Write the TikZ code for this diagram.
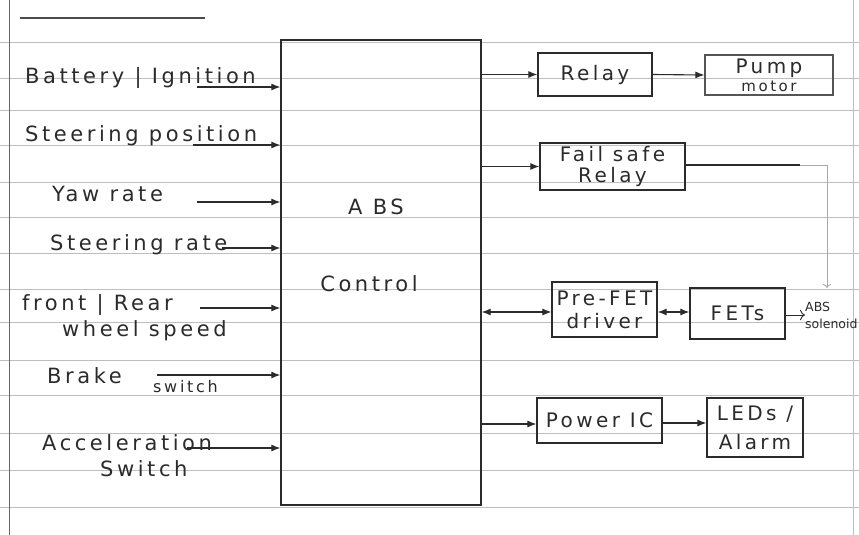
\documentclass[tikz,border=0pt]{standalone}
\usepackage{fontspec}
\setmainfont{DejaVu Sans}[LetterSpace=17]
\newfontfamily\plainfont{DejaVu Sans}
\usetikzlibrary{arrows.meta}
\definecolor{ink}{HTML}{2B2B2B}
\definecolor{rulec}{HTML}{BEBEBE}
\definecolor{faint}{HTML}{A8A8A8}
\begin{document}
\begin{tikzpicture}[x=1pt,y=-1pt,
  hand/.style={inner sep=0pt, anchor=base west, text=ink, font=\fontsize{21}{23}\selectfont},
  handc/.style={inner sep=0pt, text=ink, font=\fontsize{21}{23}\selectfont},
  smalltxt/.style={font=\fontsize{16}{18}\selectfont},
  blk/.style={draw=ink, line width=1.2pt, inner sep=0pt, align=center, text=ink,
              font=\fontsize{20}{23}\selectfont},
  wire/.style={draw=ink, line width=1.1pt},
  tip/.style={-{Latex[length=9pt,width=7pt]}},
  dtip/.style={{Latex[length=9pt,width=7pt]}-{Latex[length=9pt,width=7pt]}},
  ruled/.style={draw=rulec, line width=0.8pt}]
\useasboundingbox (0,0) rectangle (859,535);
\fill[white] (0,0) rectangle (859,535);
% ruled notebook paper
\foreach \yy in {42,78,110,145,182,217,253,289,322,360,395,433,470,507}
  \draw[ruled] (0,\yy) -- (859,\yy);
\draw[draw=gray!80!black, line width=0.9pt] (9,0) -- (9,535);
\draw[draw=rulec, line width=0.8pt] (853,0) -- (853,535);
\draw[draw=gray!60!black, line width=2.6pt] (20,18) -- (205,18);

% ABS control block
\node[blk, line width=1.3pt, minimum width=200pt, minimum height=465pt] (abs) at (381,272.5) {};
\node[handc] (abst) at (376,207) {A BS};
\node[handc] (absc) at (369,284) {Control};

% input labels
\node[hand] (t1) at (25,84) {Battery | Ignition};
\node[hand] (t2) at (25,141) {Steering position};
\node[hand] (t3) at (52,201) {Yaw rate};
\node[hand] (t4) at (50,250) {Steering rate};
\node[hand] (t5a) at (22,310) {front | Rear};
\node[hand] (t5b) at (62,336) {wheel speed};
\node[hand] (t6a) at (47,383) {Brake};
\node[hand,smalltxt] (t6b) at (153,392) {switch};
\node[hand] (t7a) at (42,450) {Acceleration};
\node[hand] (t7b) at (100,476) {Switch};

% input connectors
\coordinate (i1) at (197,87);
\coordinate (i2) at (193,145);
\coordinate (i3) at (197,202);
\coordinate (i4) at (222,248);
\coordinate (i5) at (200,308);
\coordinate (i6) at (157,375);
\coordinate (i7) at (187,448);
\foreach \c in {i1,i2,i3,i4,i5,i6,i7}
  \draw[wire,tip] (\c) -- (\c -| abs.west);

% output blocks
\node[blk, minimum width=114pt, minimum height=43pt] (relay) at (595,74.5) {Relay};
\node[blk, draw=ink!80, minimum width=128pt, minimum height=40pt] (pump) at (769,75)
  {Pump\\[-5pt]{\fontsize{15}{17}\selectfont motor}};
\node[blk, minimum width=145pt, minimum height=47pt] (fs) at (612.5,166.5) {Fail safe\\[-2pt]Relay};
\node[blk, minimum width=105pt, minimum height=55pt] (pre) at (604.5,309.5) {Pre-FET\\driver};
\node[blk, minimum width=95pt, minimum height=51pt] (fets) at (737.5,313.5) {FETs};
\node[blk, minimum width=125pt, minimum height=45pt] (pwr) at (599.5,420.5) {Power IC};
\node[blk, minimum width=96pt, minimum height=59pt] (led) at (755,427.5) {LEDs /\\[6pt]Alarm};
\node[inner sep=0pt, anchor=west, align=left, text=ink, font=\plainfont\fontsize{12.5}{17}\selectfont] (sol)
  at (805,315) {ABS\\solenoid};

% output connectors
\draw[wire,tip] (abs.east |- relay.west) -- (relay.west);
\draw[wire,tip] (relay.east) -- (pump.west);
\draw[wire,tip] (abs.east |- fs.west) -- (fs.west);
\coordinate (fsend) at (800,165);
\coordinate (fscorner) at (827,165);
\coordinate (fsdown) at (827,288);
\draw[wire] (fs.east |- fsend) -- (fsend);
\draw[draw=faint, line width=0.8pt, -{To[length=4pt]}] (fsend) -- (fscorner) -- (fsdown);
\draw[wire,dtip] (abs.east |- 0,312) -- (pre.west |- 0,312);
\draw[wire,dtip] (pre.east |- 0,312) -- (fets.west |- 0,312);
\draw[draw=ink, line width=0.9pt, -{To[length=5pt]}] (fets.east |- sol.west) -- (sol.west);
\draw[wire,tip] (abs.east |- 0,424) -- (pwr.west |- 0,424);
\draw[wire,tip] (pwr.east |- 0,423) -- (led.west |- 0,423);
\end{tikzpicture}
\end{document}
